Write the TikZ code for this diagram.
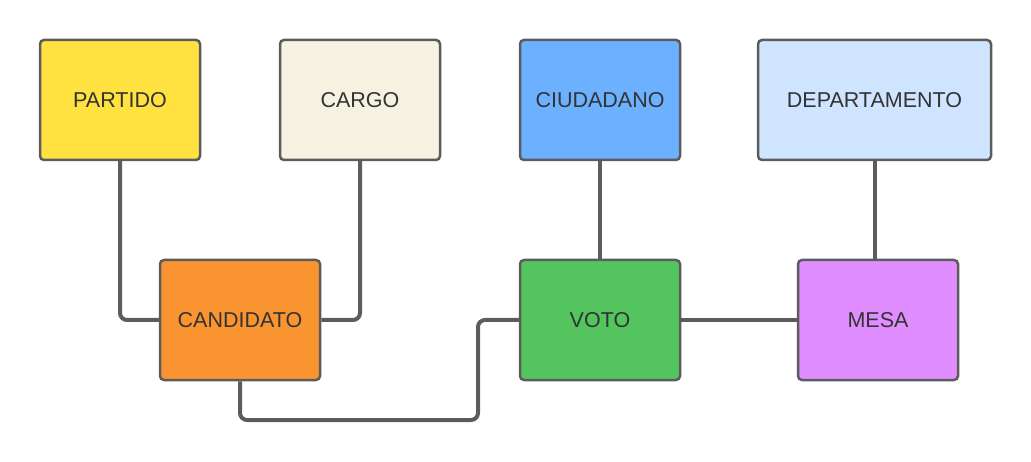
\documentclass[tikz,border=0pt]{standalone}
\usepackage{fontspec}
\setmainfont{Liberation Sans}
\definecolor{cPartido}{HTML}{FFE13F}
\definecolor{cCargo}{HTML}{F5F2E1}
\definecolor{cCiud}{HTML}{6BB1FF}
\definecolor{cDep}{HTML}{CFE4FF}
\definecolor{cCand}{HTML}{FA9431}
\definecolor{cVoto}{HTML}{53C45E}
\definecolor{cMesa}{HTML}{E08EFF}
\definecolor{edge}{HTML}{5C5C5C}
\definecolor{txt}{HTML}{333333}
\begin{document}
\begin{tikzpicture}[x=1pt,y=-1pt,
  ent/.style={draw=edge, line width=2.5pt, rounded corners=4pt, minimum width=160pt, minimum height=120pt, inner sep=0pt, font=\fontsize{21.5}{24}\selectfont, text=txt},
  conn/.style={draw=edge, line width=4pt, rounded corners=7pt}]
\useasboundingbox (0,0) rectangle (1031,462);
\node[ent, fill=cPartido] (partido) at (120,100) {PARTIDO};
\node[ent, fill=cCargo] (cargo) at (360,100) {CARGO};
\node[ent, fill=cCiud] (ciud) at (600,100) {CIUDADANO};
\node[ent, fill=cDep, minimum width=233pt] (dep) at (874.5,100) {DEPARTAMENTO};
\node[ent, fill=cCand] (cand) at (240,320) {CANDIDATO};
\node[ent, fill=cVoto] (voto) at (600,320) {VOTO};
\node[ent, fill=cMesa] (mesa) at (878,320) {MESA};
\coordinate (c1) at (478,420);
\draw[conn] (partido.south) |- (cand.west);
\draw[conn] (cargo.south) |- (cand.east);
\draw[conn] (ciud.south) -- (voto.north);
\draw[conn] (dep.south) -- (dep.south |- mesa.north);
\draw[conn] (voto.east) -- (mesa.west);
\draw[conn] (cand.south) |- (c1) |- (voto.west);
\end{tikzpicture}
\end{document}
